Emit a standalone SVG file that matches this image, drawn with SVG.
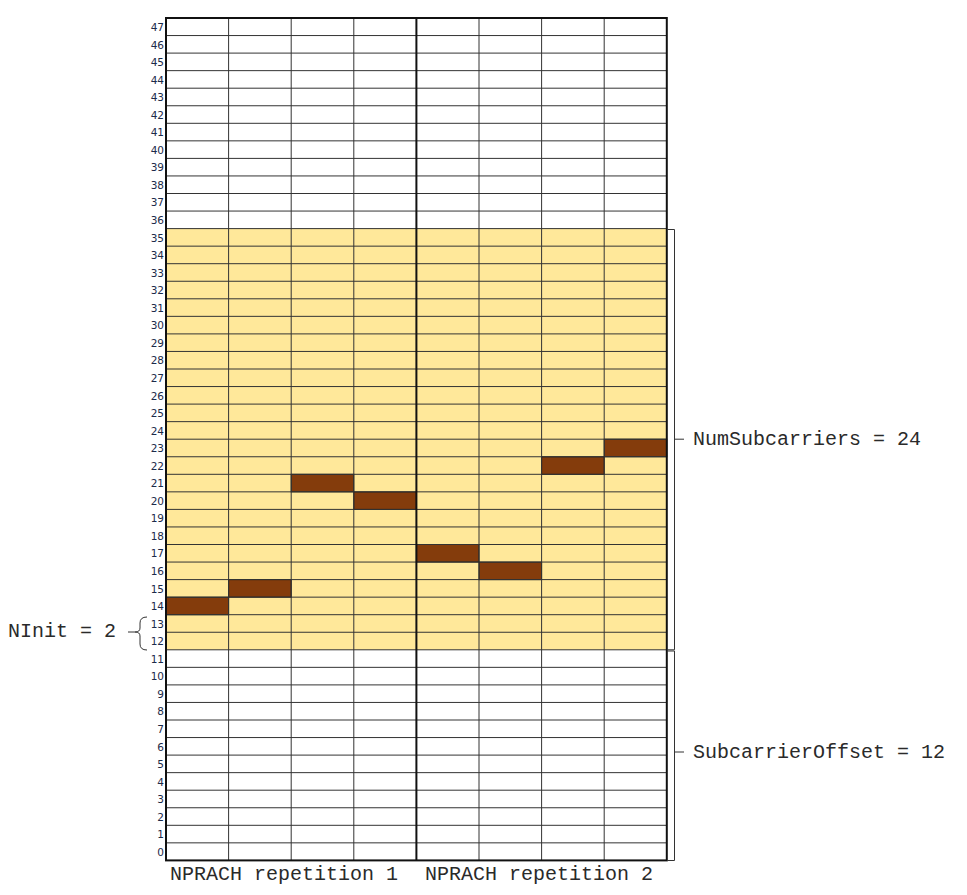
<svg xmlns="http://www.w3.org/2000/svg" width="967" height="895" viewBox="0 0 967 895">
<style>
.lbl{font-family:"DejaVu Sans","Liberation Sans",sans-serif;font-size:10.5px;fill:#1c2b4a;text-anchor:end}
.txt{font-family:"Liberation Mono","Courier New",monospace;font-size:20px;fill:#2a2a2a}
.grid{stroke:#333;stroke-width:1;fill:none}
.brk{stroke:#333;stroke-width:1;fill:none}
.y{fill:#FFE89A}
.b{fill:#843C0C;stroke:#222;stroke-width:1}
</style>
<rect width="967" height="895" fill="#fff"/>
<g id="background">
<rect class="y" x="166" y="228.6" width="500.8" height="421.2"/>
</g>
<g id="hops">
<rect class="b" x="166" y="597.2" width="62.6" height="17.55"/>
<rect class="b" x="228.6" y="579.6" width="62.6" height="17.55"/>
<rect class="b" x="291.2" y="474.3" width="62.6" height="17.55"/>
<rect class="b" x="353.8" y="491.9" width="62.6" height="17.55"/>
<rect class="b" x="416.4" y="544.5" width="62.6" height="17.55"/>
<rect class="b" x="479" y="562.1" width="62.6" height="17.55"/>
<rect class="b" x="541.6" y="456.8" width="62.6" height="17.55"/>
<rect class="b" x="604.2" y="439.2" width="62.6" height="17.55"/>
</g>
<g id="grid">
<path class="grid" d="M166,35.55H666.8M166,53.1H666.8M166,70.65H666.8M166,88.2H666.8M166,105.75H666.8M166,123.3H666.8M166,140.85H666.8M166,158.4H666.8M166,175.95H666.8M166,193.5H666.8M166,211.05H666.8M166,228.6H666.8M166,246.15H666.8M166,263.7H666.8M166,281.25H666.8M166,298.8H666.8M166,316.35H666.8M166,333.9H666.8M166,351.45H666.8M166,369H666.8M166,386.55H666.8M166,404.1H666.8M166,421.65H666.8M166,439.2H666.8M166,456.75H666.8M166,474.3H666.8M166,491.85H666.8M166,509.4H666.8M166,526.95H666.8M166,544.5H666.8M166,562.05H666.8M166,579.6H666.8M166,597.15H666.8M166,614.7H666.8M166,632.25H666.8M166,649.8H666.8M166,667.35H666.8M166,684.9H666.8M166,702.45H666.8M166,720H666.8M166,737.55H666.8M166,755.1H666.8M166,772.65H666.8M166,790.2H666.8M166,807.75H666.8M166,825.3H666.8M166,842.85H666.8"/>
<path class="grid" d="M228.6,18V860.4M291.2,18V860.4M353.8,18V860.4M479,18V860.4M541.6,18V860.4M604.2,18V860.4"/>
<path d="M416.4,18V860.4" stroke="#111" stroke-width="2"/>
<rect x="166" y="18" width="500.8" height="842.4" fill="none" stroke="#111" stroke-width="2"/>
</g>
<g id="row-labels">
<text class="lbl" x="164" y="31">47</text><text class="lbl" x="164" y="48.5">46</text><text class="lbl" x="164" y="66">45</text><text class="lbl" x="164" y="83.6">44</text><text class="lbl" x="164" y="101.1">43</text><text class="lbl" x="164" y="118.7">42</text><text class="lbl" x="164" y="136.2">41</text><text class="lbl" x="164" y="153.8">40</text><text class="lbl" x="164" y="171.3">39</text><text class="lbl" x="164" y="188.9">38</text><text class="lbl" x="164" y="206.4">37</text><text class="lbl" x="164" y="224">36</text><text class="lbl" x="164" y="241.5">35</text><text class="lbl" x="164" y="259.1">34</text><text class="lbl" x="164" y="276.6">33</text><text class="lbl" x="164" y="294.2">32</text><text class="lbl" x="164" y="311.7">31</text><text class="lbl" x="164" y="329.3">30</text><text class="lbl" x="164" y="346.8">29</text><text class="lbl" x="164" y="364.4">28</text><text class="lbl" x="164" y="381.9">27</text><text class="lbl" x="164" y="399.5">26</text><text class="lbl" x="164" y="417">25</text><text class="lbl" x="164" y="434.6">24</text><text class="lbl" x="164" y="452.1">23</text><text class="lbl" x="164" y="469.7">22</text><text class="lbl" x="164" y="487.2">21</text><text class="lbl" x="164" y="504.8">20</text><text class="lbl" x="164" y="522.3">19</text><text class="lbl" x="164" y="539.9">18</text><text class="lbl" x="164" y="557.4">17</text><text class="lbl" x="164" y="575">16</text><text class="lbl" x="164" y="592.5">15</text><text class="lbl" x="164" y="610.1">14</text><text class="lbl" x="164" y="627.6">13</text><text class="lbl" x="164" y="645.2">12</text><text class="lbl" x="164" y="662.7">11</text><text class="lbl" x="164" y="680.3">10</text><text class="lbl" x="164" y="697.8">9</text><text class="lbl" x="164" y="715.4">8</text><text class="lbl" x="164" y="732.9">7</text><text class="lbl" x="164" y="750.5">6</text><text class="lbl" x="164" y="768">5</text><text class="lbl" x="164" y="785.6">4</text><text class="lbl" x="164" y="803.1">3</text><text class="lbl" x="164" y="820.7">2</text><text class="lbl" x="164" y="838.2">1</text><text class="lbl" x="164" y="855.8">0</text>
</g>
<g id="connectors">
<path class="brk" d="M667,229.5H674.5V649.8H667M674.5,439.2H684"/>
<path class="brk" d="M667,651H674.5V860.5H667M674.5,752H684"/>
<path class="brk" d="M147,617Q140,617 140,623V628Q140,632 135,632H128M135,632Q140,632 140,636V644Q140,650 147,650"/>
</g>
<g id="labels">
<text class="txt" x="8" y="637">NInit = 2</text>
<text class="txt" x="693" y="445">NumSubcarriers = 24</text>
<text class="txt" x="693" y="758">SubcarrierOffset = 12</text>
<text class="txt" x="170" y="880">NPRACH repetition 1</text>
<text class="txt" x="425" y="880">NPRACH repetition 2</text>
</g>
</svg>
